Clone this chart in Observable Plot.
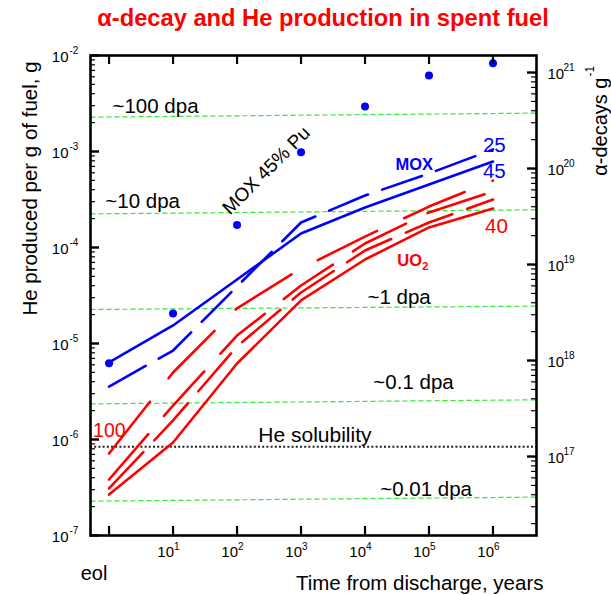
<!DOCTYPE html>
<html><head><meta charset="utf-8">
<script src="https://cdn.jsdelivr.net/npm/d3@7"></script>
<script src="https://cdn.jsdelivr.net/npm/@observablehq/plot@0.6"></script>
<style>
body{margin:0;background:#fff;font-family:"Liberation Sans",Arial,sans-serif;}
#wrap{position:relative;width:611px;height:595px;overflow:hidden;}
#title{height:36px;line-height:36px;text-align:center;padding-left:35px;color:#ff0000;font-weight:bold;font-size:23.7px;white-space:nowrap;}
svg{display:block;}
</style></head><body>
<div id="wrap"><div id="title">α-decay and He production in spent fuel</div><div id="chart"></div></div>
<script>
// ---- data ----
const years = [1, 10, 100, 1e3, 1e4, 1e5, 1e6];           // "eol" plotted at 1 year
const xTickLabels = ["eol", "1", "2", "3", "4", "5", "6"];  // exponents of 10
const moxPoints = [6.24e-6, 2.05e-5, 1.72e-4, 9.84e-4, 2.94e-3, 6.19e-3, 8.32e-3];
const mox45 = [6.34e-6, 1.54e-5, 4.64e-5, 1.40e-4, 2.61e-4, 4.53e-4, 7.87e-4];
const mox25 = [3.56e-6, 8.45e-6, 3.93e-5, 1.82e-4, 3.48e-4, 5.90e-4, 1.05e-3];
const uo2_100 = [7.14e-7, 4.99e-6, 2.32e-5, 6.04e-5, 1.30e-4, 2.67e-4, 4.99e-4];
const uo2_b = [3.83e-7, 2.26e-6, 1.21e-5, 4.02e-5, 1.10e-4, 2.32e-4, 3.83e-4];
const uo2_c = [3.09e-7, 1.58e-6, 9.31e-6, 3.40e-5, 9.31e-5, 1.82e-4, 3.16e-4];
const uo2_40 = [2.67e-7, 9.31e-7, 6.19e-6, 2.81e-5, 7.50e-5, 1.62e-4, 2.55e-4];
const dpaLabels = ["~100 dpa", "~10 dpa", "~1 dpa", "~0.1 dpa", "~0.01 dpa"];
const dpaLeft = [2.28e-3, 2.24e-4, 2.26e-5, 2.35e-6, 2.28e-7];
const dpaRight = [2.51e-3, 2.47e-4, 2.45e-5, 2.59e-6, 2.51e-7];
const dpaLabelX = [1.13, 0.875, 1.09e4, 1.35e4, 1.73e4];
const dpaLabelY = [2.49e-3, 2.61e-4, 2.55e-5, 3.32e-6, 2.55e-7];
const heSolubility = 8.4e-7;
const leftExp = [-7, -6, -5, -4, -3, -2];
const rightExp = [17, 18, 19, 20, 21];
const HE_G_PER_ALPHA = 6.647e-24; // g of He per alpha decay

// ---- layout ----
const W = 611, H = 559, mL = 90, mR = 75, mT = 19, mB = 60;
const fW = W - mL - mR, fH = H - mT - mB;
const xDomain = [10 ** -0.29, 10 ** 6.68];
const yDomain = [1e-7, 1e-2];
const FONT = "Liberation Sans, Arial, sans-serif";
const BLUE = "#0000ff", RED = "#ff0000", GREEN = "#33e633";

const rows = (vals) => years.map((t, i) => ({t, v: vals[i]}));
const leftMajor = leftExp.map(e => 10 ** e);
const leftMinor = [];
for (const e of leftExp.slice(0, -1)) for (let k = 2; k <= 9; k++) leftMinor.push(k * 10 ** e);
const rightMajor = rightExp.map(e => 10 ** e * HE_G_PER_ALPHA);
const rightMinor = [];
for (let e = 16; e <= 21; e++) for (let k = 2; k <= 9; k++) {
  const v = k * 10 ** e * HE_G_PER_ALPHA;
  if (v > yDomain[0] && v < yDomain[1]) rightMinor.push(v);
}
const xLabelled = years.slice(1);
const dpaRows = dpaLabels.map((s, i) => ({s, l: dpaLeft[i], r: dpaRight[i], x: dpaLabelX[i], y: dpaLabelY[i]}));

const lineOpts = (stroke, dash) => ({x: "t", y: "v", stroke, strokeWidth: 2.6, strokeDasharray: dash, strokeLinejoin: "round"});

const chart = Plot.plot({
  width: W, height: H, marginLeft: mL, marginRight: mR, marginTop: mT, marginBottom: mB,
  style: {fontFamily: FONT, background: "white", overflow: "visible"},
  x: {type: "log", domain: xDomain, axis: null},
  y: {type: "log", domain: yDomain, axis: null},
  marks: [
    Plot.link(dpaRows, {x1: () => xDomain[0], x2: () => xDomain[1], y1: "l", y2: "r", stroke: GREEN, strokeWidth: 1.2, strokeDasharray: "5,3"}),
    Plot.ruleY([heSolubility], {stroke: "#222", strokeWidth: 2.2, strokeDasharray: "2,2.2"}),
    Plot.line(rows(uo2_40), lineOpts(RED, null)),
    Plot.line(rows(uo2_c), lineOpts(RED, "50,16")),
    Plot.line(rows(uo2_b), lineOpts(RED, "60,24")),
    Plot.line(rows(uo2_100), lineOpts(RED, "66,30")),
    Plot.line(rows(mox45), lineOpts(BLUE, null)),
    Plot.line(rows(mox25), lineOpts(BLUE, "42,15")),
    Plot.dot(rows(moxPoints), {x: "t", y: "v", r: 4, fill: BLUE}),
    // annotations
    Plot.text(dpaRows, {x: "x", y: "y", text: "s", textAnchor: "start", lineAnchor: "bottom", fontSize: 20.5, fill: "black"}),
    Plot.text(["He solubility"], {x: 215, y: 9.31e-7, textAnchor: "start", lineAnchor: "bottom", fontSize: 21, fill: "black"}),
    Plot.text(["MOX 45% Pu"], {x: 287, y: 6.34e-4, rotate: -45, fontSize: 19, fill: "black"}),
    Plot.text(["MOX"], {x: 5.9e4, y: 6.34e-4, lineAnchor: "bottom", fontSize: 16.5, fontWeight: "bold", fill: BLUE}),
    Plot.text(["25"], {x: 1.05e6, y: 1.0e-3, lineAnchor: "bottom", fontSize: 20.5, fill: BLUE}),
    Plot.text(["45"], {x: 1.05e6, y: 5.36e-4, lineAnchor: "bottom", fontSize: 20.5, fill: BLUE}),
    Plot.text(["40"], {x: 1.13e6, y: 1.43e-4, lineAnchor: "bottom", fontSize: 20.5, fill: RED}),
    Plot.text(["100"], {x: 1.01, y: 1.05e-6, lineAnchor: "bottom", fontSize: 19.5, fill: RED}),
    Plot.text(["UO"], {x: 3.2e4, y: 6.34e-5, textAnchor: "start", lineAnchor: "bottom", fontSize: 16.5, fontWeight: "bold", fill: RED}),
    Plot.text(["2"], {x: 3.2e4, y: 6.34e-5, dx: 25, dy: 4, textAnchor: "start", lineAnchor: "bottom", fontSize: 11, fontWeight: "bold", fill: RED}),
    // frame & ticks
    Plot.frame({stroke: "black", strokeWidth: 2.6}),
    Plot.ruleY(leftMajor, {y: d => d, insetRight: fW - 9, strokeWidth: 2.4}),
    Plot.ruleY(leftMinor, {y: d => d, insetRight: fW - 5, strokeWidth: 1.2}),
    Plot.ruleY(rightMajor, {y: d => d, insetLeft: fW - 9, strokeWidth: 2.4}),
    Plot.ruleY(rightMinor, {y: d => d, insetLeft: fW - 5, strokeWidth: 1.2}),
    Plot.ruleX(years, {x: d => d, insetBottom: fH - 9, strokeWidth: 2.2}),
    Plot.ruleX(years, {x: d => d, insetTop: fH - 9, strokeWidth: 2.2}),
    // tick labels
    Plot.text(leftExp, {frameAnchor: "left", y: d => 10 ** d, text: () => "10", textAnchor: "end", dx: -22, dy: 2, fontSize: 15, fill: "black"}),
    Plot.text(leftExp, {frameAnchor: "left", y: d => 10 ** d, text: d => String(d), textAnchor: "start", dx: -21, dy: -5, fontSize: 10, fill: "black"}),
    Plot.text(rightExp, {frameAnchor: "right", y: d => 10 ** d * HE_G_PER_ALPHA, text: () => "10", textAnchor: "start", dx: 11, dy: 2, fontSize: 15, fill: "black"}),
    Plot.text(rightExp, {frameAnchor: "right", y: d => 10 ** d * HE_G_PER_ALPHA, text: d => String(d), textAnchor: "start", dx: 27, dy: -5, fontSize: 10, fill: "black"}),
    Plot.text(xLabelled, {frameAnchor: "bottom", x: d => d, text: () => "10", textAnchor: "end", lineAnchor: "bottom", dx: 1, dy: 21, fontSize: 15, fill: "black"}),
    Plot.text(xLabelled, {frameAnchor: "bottom", x: d => d, text: (d, i) => xTickLabels[i + 1], textAnchor: "start", lineAnchor: "bottom", dx: 1, dy: 14, fontSize: 10, fill: "black"}),
    Plot.text([xTickLabels[0]], {frameAnchor: "bottom", x: years[0], textAnchor: "middle", lineAnchor: "bottom", dx: -15, dy: 44, fontSize: 20, fill: "black"}),
    // axis titles
    Plot.text(["Time from discharge, years"], {frameAnchor: "bottom-right", textAnchor: "end", lineAnchor: "bottom", dx: 7, dy: 54, fontSize: 20.5, fill: "black"}),
    Plot.text(["He produced per g of fuel, g"], {frameAnchor: "left", rotate: -90, textAnchor: "middle", dx: -60, dy: -107, fontSize: 20.5, fill: "black"}),
    Plot.text(["α-decays g"], {frameAnchor: "top-right", rotate: -90, textAnchor: "end", dx: 56, dy: 22, fontSize: 20, fill: "black"}),
    Plot.text(["-1"], {frameAnchor: "top-right", rotate: -90, textAnchor: "start", dx: 49, dy: 21, fontSize: 12, fill: "black"})
  ]
});
document.getElementById("chart").appendChild(chart);
</script>
</body></html>
